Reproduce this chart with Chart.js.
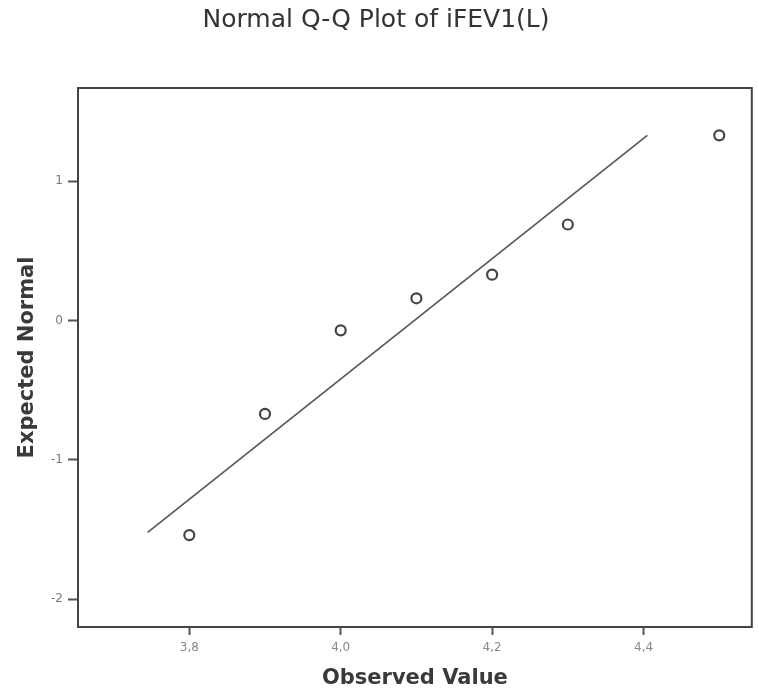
<!DOCTYPE html>
<html>
<head>
<meta charset="utf-8">
<script src="https://cdn.jsdelivr.net/npm/chart.js@4"></script>
<style>
  html, body { margin: 0; padding: 0; background: #fff; }
  #wrap { width: 759px; height: 691px; }
</style>
</head>
<body>
<div id="wrap"><canvas id="qq" width="759" height="691"></canvas></div>
<script>
const observed = [3.8, 3.9, 4.0, 4.1, 4.2, 4.3, 4.5];
const expected = [-1.54, -0.67, -0.07, 0.16, 0.33, 0.69, 1.33];

// Reference line end points
const lineX = [3.745, 4.405];
const lineY = [-1.52, 1.33];

const xTicks = [3.8, 4.0, 4.2, 4.4];
const yTicks = [-2, -1, 0, 1];

const points = observed.map((x, i) => ({ x: x, y: expected[i] }));
const refLine = lineX.map((x, i) => ({ x: x, y: lineY[i] }));

// frame round the plot area
const frame = {
  id: "frame",
  afterDatasetsDraw(chart) {
    const a = chart.chartArea;
    const c = chart.ctx;
    c.save();
    c.strokeStyle = "#444";
    c.lineWidth = 2;
    c.strokeRect(a.left, a.top, a.right - a.left, a.bottom - a.top);
    c.restore();
  }
};

const ctx = document.getElementById("qq").getContext("2d");
new Chart(ctx, {
  type: "scatter",
  data: {
    datasets: [
      {
        type: "line",
        data: refLine,
        borderColor: "#555",
        borderWidth: 1.6,
        pointRadius: 0,
        fill: false
      },
      {
        data: points,
        pointRadius: 5,
        pointBorderWidth: 2.2,
        pointBorderColor: "#444",
        pointBackgroundColor: "rgba(0,0,0,0)"
      }
    ]
  },
  plugins: [frame],
  options: {
    responsive: false,
    animation: false,
    layout: { padding: { right: 7 } },
    plugins: {
      legend: { display: false },
      tooltip: { enabled: false },
      title: {
        display: true,
        text: "Normal Q-Q Plot of iFEV1(L)",
        color: "#333",
        font: { family: "DejaVu Sans", size: 25, weight: "normal", lineHeight: 1.2 },
        padding: { top: 5, bottom: 53 }
      }
    },
    scales: {
      x: {
        type: "linear",
        min: 3.653,
        max: 4.543,
        grid: { display: true, drawOnChartArea: false, drawTicks: true, tickLength: 8, tickColor: "#555", tickWidth: 2 },
        border: { display: false },
        afterBuildTicks: (s) => { s.ticks = xTicks.map(v => ({ value: v })); },
        afterFit: (s) => { s.height = 64; },
        ticks: {
          color: "#888",
          font: { family: "DejaVu Sans", size: 12 },
          padding: 6,
          maxRotation: 0,
          callback: (v) => v.toFixed(1).replace(".", ",")
        },
        title: {
          display: true,
          text: "Observed Value",
          color: "#3a3a3a",
          font: { family: "DejaVu Sans", size: 21, weight: "bold" },
          padding: { top: 0, bottom: 0 }
        }
      },
      y: {
        type: "linear",
        min: -2.2,
        max: 1.67,
        grid: { display: true, drawOnChartArea: false, drawTicks: true, tickLength: 10, tickColor: "#555", tickWidth: 2 },
        border: { display: false },
        afterBuildTicks: (s) => { s.ticks = yTicks.map(v => ({ value: v })); },
        afterFit: (s) => { s.width = 78; },
        ticks: {
          color: "#777",
          font: { family: "DejaVu Sans", size: 12 },
          padding: 5,
          callback: (v) => v
        },
        title: {
          display: true,
          text: "Expected Normal",
          color: "#3a3a3a",
          font: { family: "DejaVu Sans", size: 21, weight: "bold" },
          padding: { top: 15, bottom: 0 }
        }
      }
    }
  }
});
</script>
</body>
</html>
